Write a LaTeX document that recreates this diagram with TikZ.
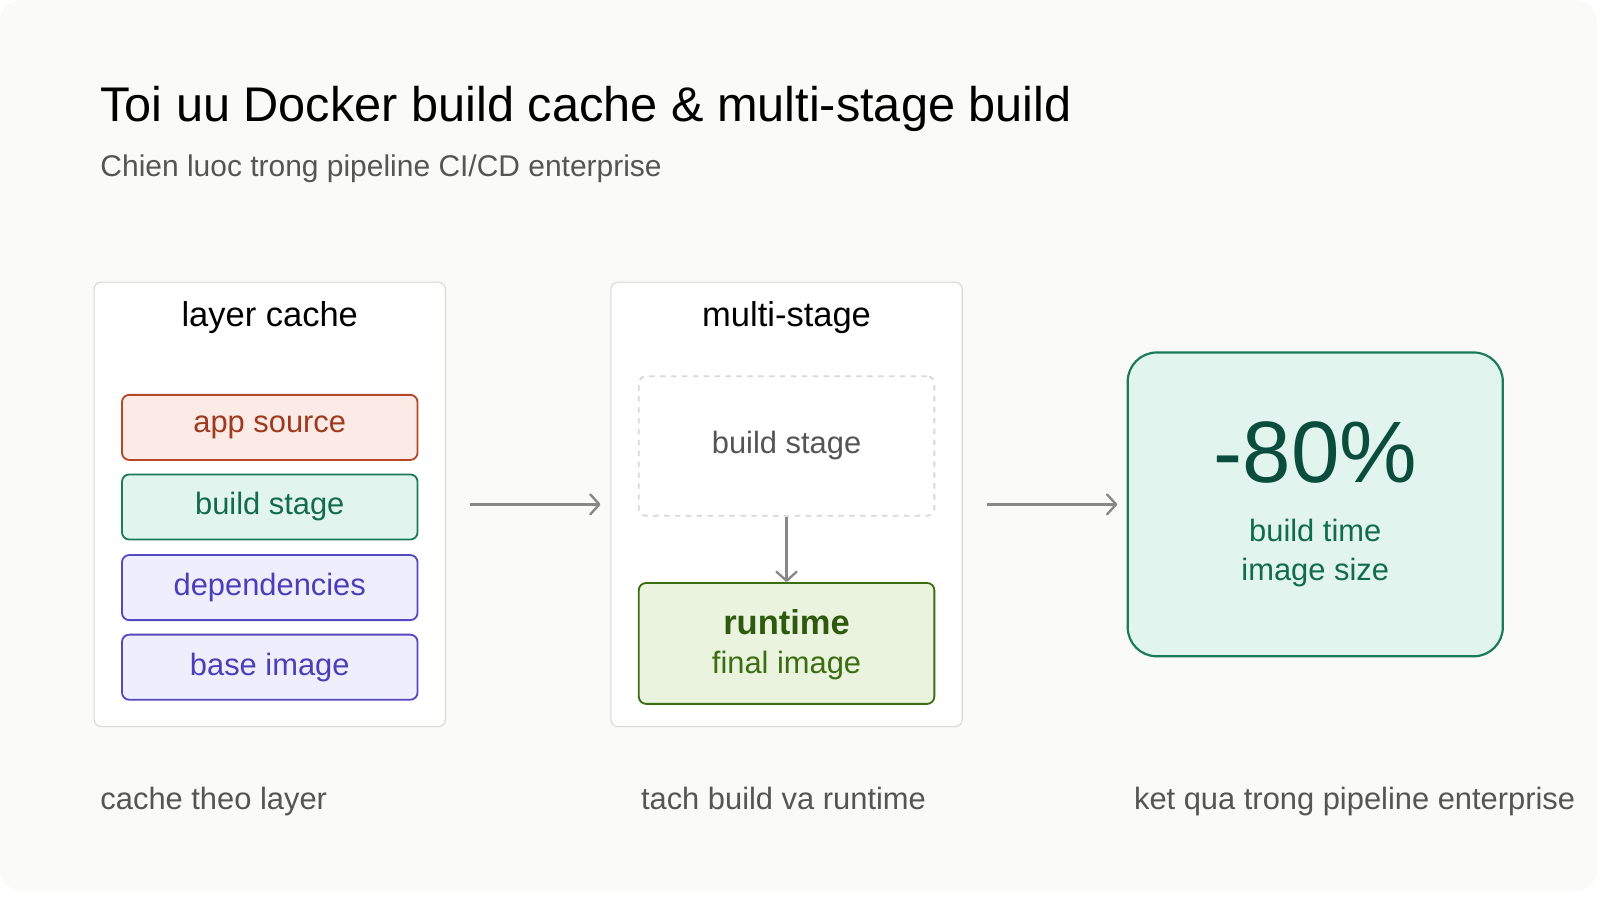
\documentclass[tikz,border=0pt]{standalone}
\usepackage{fontspec}
\setmainfont{Liberation Sans}
\usetikzlibrary{arrows.meta, positioning}
\definecolor{bgcard}{HTML}{FAFAF8}
\definecolor{panelline}{HTML}{D8D8D4}
\definecolor{greytext}{HTML}{555555}
\definecolor{arrowgrey}{HTML}{888888}
\definecolor{redfill}{HTML}{FBEAE5}
\definecolor{redline}{HTML}{B5462A}
\definecolor{redtext}{HTML}{A03A1E}
\definecolor{greenfill}{HTML}{E1F5EE}
\definecolor{greenline}{HTML}{1A7A5A}
\definecolor{greentext}{HTML}{136B4E}
\definecolor{greendark}{HTML}{0A4D3C}
\definecolor{purplefill}{HTML}{EEEEFD}
\definecolor{purpleline}{HTML}{5548C0}
\definecolor{purpletext}{HTML}{4B3FB8}
\definecolor{limefill}{HTML}{EAF3DE}
\definecolor{limeline}{HTML}{3B6D11}
\definecolor{limetext}{HTML}{2E5A0E}
\begin{document}
\begin{tikzpicture}[
        x=0.02cm, y=-0.02cm, >={Straight Barb[length=5pt,width=11pt,round]},
        panel/.style={draw=panelline, fill=white, rounded corners=4pt, line width=0.6pt},
        heading/.style={font=\fontsize{19}{22}\selectfont},
        label/.style={font=\fontsize{17}{20}\selectfont},
        layerbox/.style={label, rounded corners=4pt, line width=1pt, minimum width=5.72cm,
                         minimum height=1.26cm},
        caption/.style={anchor=base west, text=greytext, font=\fontsize{17}{20}\selectfont},
        flow/.style={->, draw=arrowgrey, line width=1.3pt}
        ]
        \useasboundingbox (0,0) rectangle (1548,875);
        \fill[white] (0,0) rectangle (1548,875);
        \fill[bgcard, rounded corners=12pt] (0,0) rectangle (1545,862);

        % title
        \node[anchor=base west, font=\fontsize{26.8}{30}\selectfont] (title) at (91,118)
            {Toi uu Docker build cache \& multi-stage build};
        \node[anchor=base west, text=greytext, font=\fontsize{16.5}{19}\selectfont] (subtitle) at (91,171)
            {Chien luoc trong pipeline CI/CD enterprise};

        % layer cache
        \draw[panel] (91,273) rectangle (431,703);
        \node[heading] (cachehead) at (261,307) {layer cache};
        \node[layerbox, draw=redline, fill=redfill, text=redtext] (app) at (261,413.5) {app source};
        \node[layerbox, draw=greenline, fill=greenfill, text=greentext] (build) at (261,490.5) {build stage};
        \node[layerbox, draw=purpleline, fill=purplefill, text=purpletext] (deps) at (261,568.5) {dependencies};
        \node[layerbox, draw=purpleline, fill=purplefill, text=purpletext] (base) at (261,645.5) {base image};

        % multi-stage
        \draw[panel] (591,273) rectangle (931,703);
        \node[heading] (stagehead) at (761,307) {multi-stage};
        \node[label, draw=panelline, dashed, line width=1pt, rounded corners=4pt, minimum width=5.72cm,
              minimum height=2.7cm, text=greytext] (bstage) at (761,431.5) {build stage};
        \node[draw=limeline, fill=limefill, line width=1pt, rounded corners=4pt, minimum width=5.72cm,
              minimum height=2.34cm] (runtime) at (761,622.5) {};
        \node[heading, font=\fontsize{19}{22}\selectfont\bfseries, text=limetext] (rtname) at (761,602) {runtime};
        \node[label, text=limeline] (rtsub) at (761,644) {final image};
        \draw[flow] (bstage) -- (runtime);

        % result
        \node[draw=greenline, fill=greenfill, line width=1.2pt, rounded corners=16pt, minimum width=7.26cm,
              minimum height=5.88cm] (result) at (1272.5,488) {};
        \node[font=\fontsize{48}{52}\selectfont, text=greendark] (pct) at (1272.5,438) {-80\%};
        \node[label, text=greentext] (gain1) at (1272.5,513) {build time};
        \node[label, text=greentext] (gain2) at (1272.5,554) {image size};

        % connectors
        \coordinate (cacheout) at (455,488);
        \coordinate (stagein) at (581,488);
        \coordinate (stageout) at (955,488);
        \coordinate (resultin) at (1081,488);
        \draw[flow] (cacheout) -- (stagein);
        \draw[flow] (stageout) -- (resultin);

        % captions
        \node[caption] (cap1) at (91,783) {cache theo layer};
        \node[caption] (cap2) at (614,783) {tach build va runtime};
        \node[caption] (cap3) at (1091,783) {ket qua trong pipeline enterprise};
      \end{tikzpicture}
\end{document}
